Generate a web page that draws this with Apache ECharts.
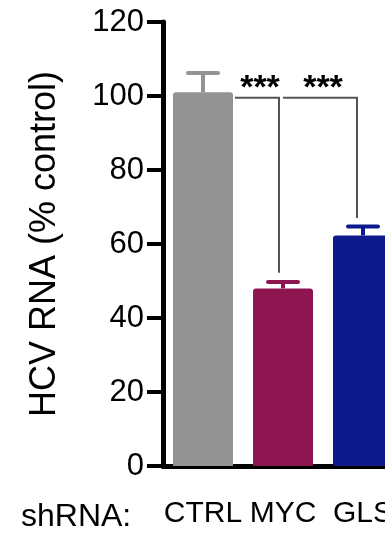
<!DOCTYPE html>
<html>
<head>
<meta charset="utf-8">
<script src="https://cdn.jsdelivr.net/npm/echarts@6/dist/echarts.min.js"></script>
<style>
html,body{margin:0;padding:0;background:#fff;overflow:hidden;}
#c{width:430px;height:534px;}
</style>
</head>
<body>
<div id="c"></div>
<script>
var categories = ['CTRL', 'MYC', 'GLS'];
var means = [101, 48, 62.3];
var errTops = [106.2, 49.7, 64.7];
var barColors = ['#939393', '#8e1650', '#0c1a8c'];
// brackets: [fromCategory, toCategory, level, dropValue]
var brackets = [[0, 1, 99.5, 52.2], [1, 2, 99.5, 67]];
var sigLabels = ['***', '***'];
var yTicks = [0, 20, 40, 60, 80, 100, 120];

var FONT = 'Liberation Sans, Arial, sans-serif';
var BARW = 60;
var chart = echarts.init(document.getElementById('c'));

chart.setOption({
  animation: false,
  grid: { left: 163, top: 22, bottom: 68, width: 240, containLabel: false },
  xAxis: {
    type: 'category',
    data: categories,
    axisLine: { lineStyle: { color: '#000', width: 5 } },
    axisTick: { alignWithLabel: true, length: 17, lineStyle: { color: '#000', width: 5 } },
    axisLabel: { color: '#000', fontSize: 30, fontFamily: FONT, margin: 33, interval: 0 }
  },
  yAxis: {
    type: 'value',
    min: 0, max: 120, interval: 20,
    splitLine: { show: false },
    axisLine: { show: true, lineStyle: { color: '#000', width: 5 } },
    axisTick: { show: true, length: 16, lineStyle: { color: '#000', width: 4 } },
    axisLabel: { color: '#000', fontSize: 31, fontFamily: FONT, margin: 19,
      formatter: function (v) { return yTicks.indexOf(v) >= 0 ? String(v) : ''; } },
    name: 'HCV RNA (% control)',
    nameLocation: 'middle',
    nameGap: 100,
    nameTextStyle: { color: '#000', fontSize: 36, fontFamily: FONT }
  },
  graphic: [{
    type: 'text', left: 21, top: 501,
    style: { text: 'shRNA:', fill: '#000', font: '32px ' + FONT }
  }],
  series: [
    {
      type: 'bar',
      barWidth: BARW,
      data: means.map(function (v, i) {
        return { value: v, itemStyle: { color: barColors[i], borderRadius: [3, 3, 0, 0] } };
      }),
      z: 2
    },
    {
      type: 'custom',
      z: 3,
      data: errTops.map(function (v, i) { return [i, means[i], v]; }),
      renderItem: function (params, api) {
        var i = api.value(0);
        var p0 = api.coord([i, api.value(1)]);
        var p1 = api.coord([i, api.value(2)]);
        var c = barColors[i];
        var hw = 15;
        return {
          type: 'group',
          children: [
            { type: 'line', shape: { x1: p0[0], y1: p0[1], x2: p1[0], y2: p1[1] }, style: { stroke: c, lineWidth: 4 } },
            { type: 'line', shape: { x1: p1[0] - hw, y1: p1[1], x2: p1[0] + hw, y2: p1[1] }, style: { stroke: c, lineWidth: 4, lineCap: 'round' } }
          ]
        };
      }
    },
    {
      type: 'custom',
      z: 4,
      data: brackets,
      renderItem: function (params, api) {
        var a = api.value(0), b = api.value(1);
        var lvl = api.value(2), drop = api.value(3);
        var pa = api.coord([a, lvl]);
        var pb = api.coord([b, lvl]);
        var pd = api.coord([b, drop]);
        var x1 = params.dataIndex === 0 ? pa[0] + BARW / 2 + 2 : pa[0];
        var x2 = pb[0] - (params.dataIndex === 0 ? 4 : 6);
        return {
          type: 'group',
          children: [
            { type: 'polyline', shape: { points: [[x1, pa[1]], [x2, pa[1]], [x2, pd[1]]] },
              style: { stroke: '#555', lineWidth: 2, fill: null } },
            { type: 'text', x: (x1 + x2) / 2 + 3, y: pa[1] + 8,
              style: { text: sigLabels[params.dataIndex], fill: '#000', font: 'bold 34px ' + FONT,
                       textAlign: 'center', textVerticalAlign: 'bottom' } }
          ]
        };
      }
    }
  ]
});
</script>
</body>
</html>
